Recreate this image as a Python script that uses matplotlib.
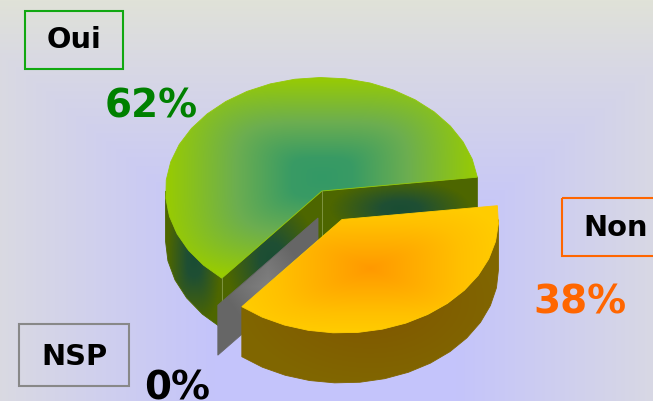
import numpy as np
import matplotlib
matplotlib.use("Agg")
import matplotlib.pyplot as plt
from matplotlib.colors import to_rgb
from matplotlib.patches import Polygon, Rectangle

# ---- data ----
categories = ["Oui", "Non", "NSP"]
values = [62, 38, 0]
value_labels = ["62%", "38%", "0%"]

# ---- style ----
W, H = 653, 401
RX, RY, DEPTH = 156.5, 113.5, 50.0
START = 7.0               # the Oui slice starts here and runs counter-clockwise
CENTERS = {"Oui": (322, 191), "Non": (342, 219.5), "NSP": (318, 218)}

plt.rcParams["font.family"] = ["DejaVu Sans"]
fig = plt.figure(figsize=(W / 100, H / 100), dpi=100)
ax = fig.add_axes([0, 0, 1, 1])
ax.axis("off")


def ramp(t, stops):
    ts = [s[0] for s in stops]
    cols = np.array([to_rgb(s[1]) for s in stops])
    return np.stack([np.interp(t, ts, cols[:, i]) for i in range(3)], axis=-1)


# background
yy, xx = np.mgrid[0:H, 0:W]
bt = np.maximum(np.abs(xx - 335) / 400.0, np.abs(yy - 330) / 330.0)
ax.imshow(ramp(bt, [(0, "#c4c4fb"), (0.3, "#c4c4fb"), (0.8, "#d8d8e4"), (1, "#e0e2d8")]),
          extent=(0, W, H, 0), aspect="auto", zorder=0, interpolation="bilinear")
ax.set_xlim(0, W)
ax.set_ylim(H, 0)


def pt(c, deg):
    a = np.deg2rad(deg)
    return c[0] + RX * np.cos(a), c[1] - RY * np.sin(a)


def arc(c, a0, a1, step=9):
    n = max(2, int(abs(a1 - a0) / step) + 1)
    return [pt(c, d) for d in np.linspace(a0, a1, n)]


def fill(poly, stops, z, p=3.0):
    poly = np.array(poly)
    x0, y0 = poly.min(axis=0)
    x1, y1 = poly.max(axis=0)
    x0, x1, y0, y1 = np.floor(x0), np.ceil(x1), np.floor(y0), np.ceil(y1)
    gy, gx = np.mgrid[y0:y1 + 1, x0:x1 + 1]
    u = np.abs(gx - (x0 + x1) / 2) / max((x1 - x0) / 2, 1)
    v = np.abs(gy - (y0 + y1) / 2) / max((y1 - y0) / 2, 1)
    t = np.minimum((u ** p + v ** p) ** (1 / p), 1)
    im = ax.imshow(ramp(t, stops), extent=(x0 - .5, x1 + .5, y1 + .5, y0 - .5),
                   aspect="auto", zorder=z, interpolation="bilinear")
    im.set_clip_path(Polygon(poly, closed=True, transform=ax.transData))
    mid = ramp(np.array(0.95), stops)
    ax.add_patch(Polygon(poly, closed=True, fill=False, edgecolor=mid, lw=0.6, zorder=z + 0.1))


def box(poly_top, dy=DEPTH):
    return list(poly_top) + [(x, y + dy) for x, y in reversed(poly_top)]


GREEN_TOP = [(0, "#339966"), (0.2, "#399b64"), (0.55, "#6cae50"), (1, "#99cc00")]
GREEN_WALL = [(0, "#1a4d33"), (0.25, "#1f4f33"), (0.9, "#4d6600"), (1, "#4d6600")]
ORANGE_TOP = [(0, "#ff9900"), (0.7, "#ffc000"), (1, "#ffcc00")]
ORANGE_WALL = [(0, "#805500"), (1, "#806600")]
GREY_WALL = [(0, "#808080"), (1, "#666666")]

total = sum(values)
sweeps = dict(zip(categories, (v / total * 360 for v in values)))

# Oui
c = CENTERS["Oui"]
a0, a1 = START, START + sweeps["Oui"]
fill(box(arc(c, 180, a1)), GREEN_WALL, 2)
fill(box([c, pt(c, a1)]), GREEN_WALL, 2.2, p=2.0)
fill(box([c, pt(c, a0)]), GREEN_WALL, 2.2, p=2.0)
fill([c] + arc(c, a0, a1), GREEN_TOP, 3, p=4.0)
ax.plot([c[0], c[0]], [c[1], c[1] + DEPTH], color="#7f9440", lw=0.7, zorder=3.2)
ax.plot([pt(c, a1)[0]] * 2, [pt(c, a1)[1], pt(c, a1)[1] + DEPTH], color="#7f9440", lw=0.7, zorder=3.2)

# NSP: a slice of zero width still shows its cut face
c = CENTERS["NSP"]
b = a1 + sweeps["NSP"]
fill(box([c, pt(c, b)]), GREY_WALL, 4, p=1.0)

# Non
c = CENTERS["Non"]
b0, b1 = b, b + sweeps["Non"]
fill(box(arc(c, b0, min(b1, 360))), ORANGE_WALL, 5, p=2.0)
fill([c] + arc(c, b0, b1), ORANGE_TOP, 6, p=4.0)

# labels
FS_NAME, FS_VAL = 20.8, 28
name_style = dict(ha="center", va="center", color="black", fontsize=FS_NAME, fontweight="bold", zorder=10)
val_style = dict(ha="center", va="center", fontsize=FS_VAL, fontweight="bold", zorder=10)
boxes = {"Oui": ((25, 11), 98, 58, "#11a811", (74, 40), "#008000", (151, 106)),
         "Non": ((562, 198), 100, 58, "#ff6600", (616, 228), "#ff6600", (580, 303)),
         "NSP": ((19, 324), 110, 62, "#888888", (74, 357), "black", (177, 388))}
for name, val in zip(categories, value_labels):
    xy, w, h, ec, tpos, vc, vpos = boxes[name]
    ax.add_patch(Rectangle(xy, w, h, fill=False, edgecolor=ec, lw=1.5, zorder=9))
    ax.text(*tpos, name, **name_style)
    ax.text(*vpos, val, color=vc, **val_style)

fig.savefig("out.png", dpi=100)
